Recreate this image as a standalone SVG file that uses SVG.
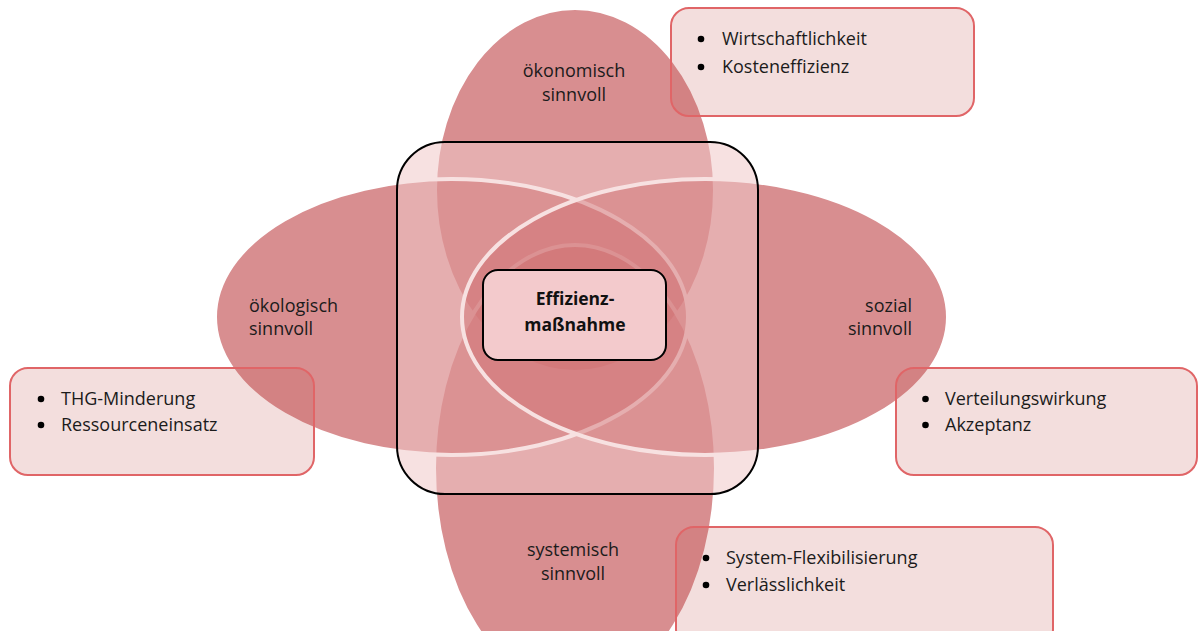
<svg xmlns="http://www.w3.org/2000/svg" width="1199" height="631" viewBox="0 0 1199 631">
<style>
.ell{fill:#A80408;fill-opacity:0.45;stroke:#FFFFFF;stroke-width:4}
.lbl{font-family:"Open Sans","Noto Sans","Liberation Sans",sans-serif;font-size:18px;fill:#1b1b1b}
.call{fill:#C0504D;fill-opacity:0.19;stroke:#E06567;stroke-width:2}
.btxt{font-family:"Open Sans","Noto Sans","Liberation Sans",sans-serif;font-size:18px;fill:#1b1b1b}
.dot{fill:#000000}
.ctr{font-family:"Open Sans","Noto Sans","Liberation Sans",sans-serif;font-size:17.5px;font-weight:bold;fill:#111111}
</style>
<rect width="1199" height="631" fill="#FFFFFF"/>
<g id="ellipses">
  <ellipse id="e-top" class="ell" cx="575" cy="190" rx="140" ry="182"/>
  <ellipse id="e-bottom" class="ell" cx="575" cy="468" rx="141" ry="223"/>
  <ellipse id="e-left" class="ell" cx="451.5" cy="317" rx="236.5" ry="138"/>
  <ellipse id="e-right" class="ell" cx="705" cy="317" rx="243" ry="138"/>
</g>
<g id="frame">
  <rect x="397" y="142" width="361" height="352" rx="48" ry="48" fill="#F0C8C9" fill-opacity="0.55" stroke="#000000" stroke-width="2"/>
</g>
<g id="connectors"></g>
<g id="center">
  <rect x="483" y="270" width="183" height="90" rx="15" ry="15" fill="#F3CACC" stroke="#000000" stroke-width="2"/>
  <text class="ctr" x="575" y="305" text-anchor="middle">Effizienz-</text>
  <text class="ctr" x="575" y="331" text-anchor="middle">maßnahme</text>
</g>
<g id="label-top">
  <text class="lbl" x="574" y="77" text-anchor="middle">ökonomisch</text>
  <text class="lbl" x="574" y="101" text-anchor="middle">sinnvoll</text>
</g>
<g id="label-left">
  <text class="lbl" x="249" y="312">ökologisch</text>
  <text class="lbl" x="249" y="335">sinnvoll</text>
</g>
<g id="label-right">
  <text class="lbl" x="912" y="312" text-anchor="end">sozial</text>
  <text class="lbl" x="912" y="335" text-anchor="end">sinnvoll</text>
</g>
<g id="label-bottom">
  <text class="lbl" x="573" y="556" text-anchor="middle">systemisch</text>
  <text class="lbl" x="573" y="580" text-anchor="middle">sinnvoll</text>
</g>
<g id="box-top">
  <rect class="call" x="671" y="8" width="303" height="108" rx="18" ry="18"/>
  <circle class="dot" cx="701" cy="39" r="3.3"/>
  <text class="btxt" x="722" y="45">Wirtschaftlichkeit</text>
  <circle class="dot" cx="701" cy="67" r="3.3"/>
  <text class="btxt" x="722" y="73">Kosteneffizienz</text>
</g>
<g id="box-left">
  <rect class="call" x="10" y="368" width="304" height="107" rx="18" ry="18"/>
  <circle class="dot" cx="41" cy="399" r="3.3"/>
  <text class="btxt" x="61" y="405">THG-Minderung</text>
  <circle class="dot" cx="41" cy="425" r="3.3"/>
  <text class="btxt" x="61" y="431">Ressourceneinsatz</text>
</g>
<g id="box-right">
  <rect class="call" x="896" y="368" width="301" height="107" rx="18" ry="18"/>
  <circle class="dot" cx="925.5" cy="399" r="3.3"/>
  <text class="btxt" x="945" y="405">Verteilungswirkung</text>
  <circle class="dot" cx="925.5" cy="425" r="3.3"/>
  <text class="btxt" x="945" y="431">Akzeptanz</text>
</g>
<g id="box-bottom">
  <rect class="call" x="676" y="527" width="377" height="120" rx="18" ry="18"/>
  <circle class="dot" cx="706" cy="558" r="3.3"/>
  <text class="btxt" x="726" y="564">System-Flexibilisierung</text>
  <circle class="dot" cx="706" cy="585" r="3.3"/>
  <text class="btxt" x="726" y="591">Verlässlichkeit</text>
</g>
</svg>
